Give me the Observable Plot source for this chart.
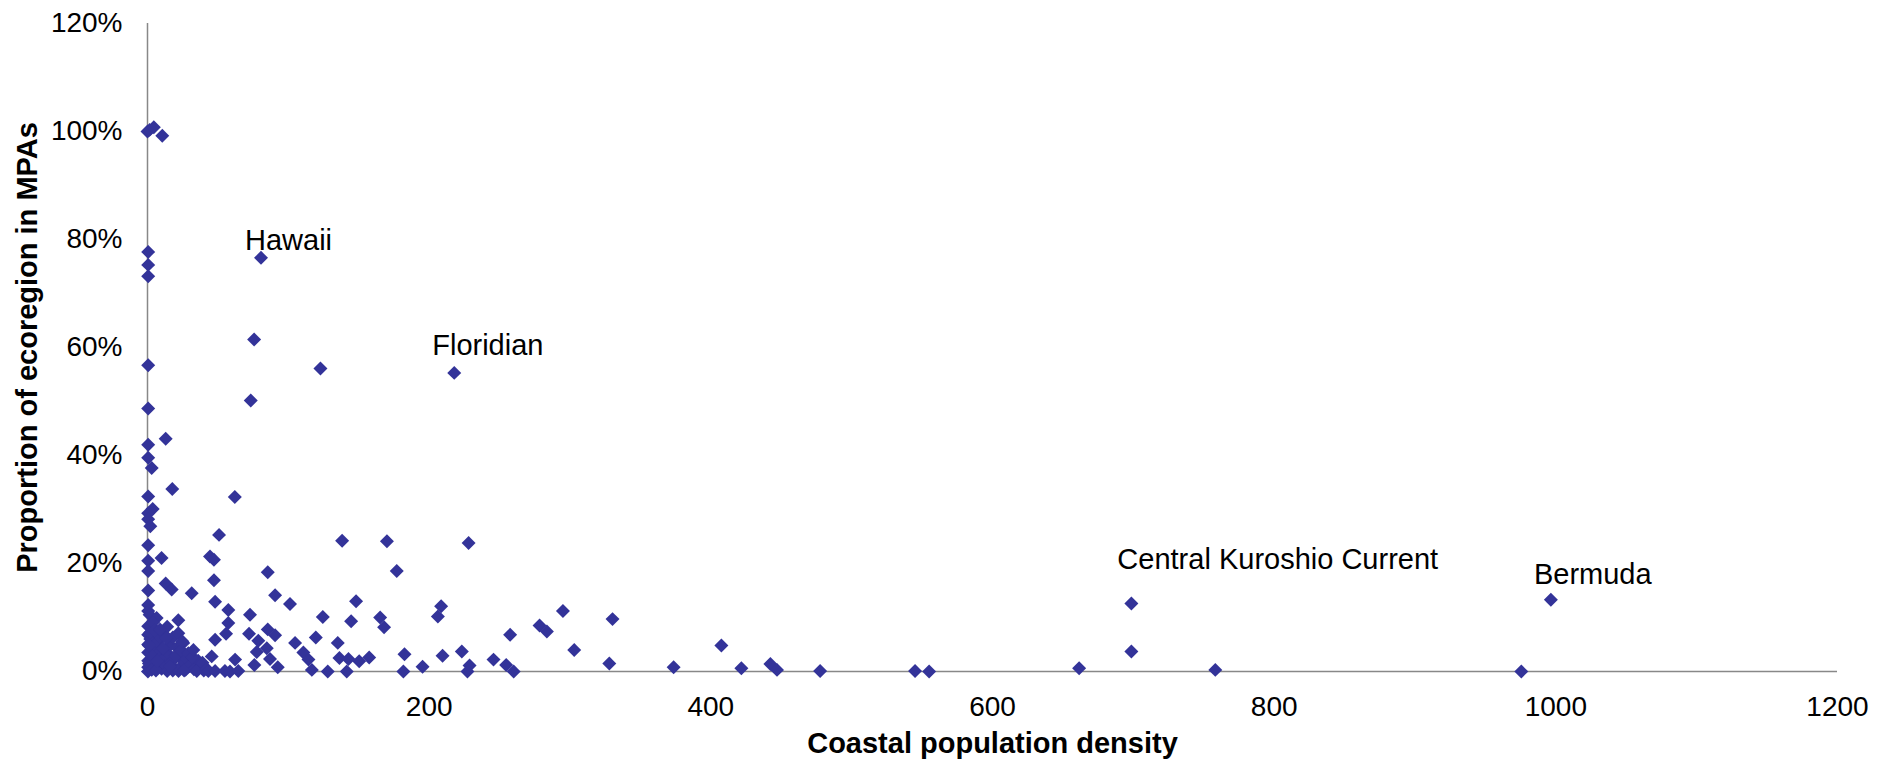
<!DOCTYPE html>
<html>
<head>
<meta charset="utf-8">
<script src="https://cdn.jsdelivr.net/npm/d3@7"></script>
<script src="https://cdn.jsdelivr.net/npm/@observablehq/plot@0.6"></script>
<style>
  html, body { margin: 0; padding: 0; background: #fff; }
  #chart { width: 1892px; height: 765px; }
</style>
</head>
<body>
<div id="chart"></div>
<script>
// ---- Data: [coastal population density, % of ecoregion in MPAs] ----
const axisColumn = [
  [0, 100.0], [1.5, 100.3], [4.5, 100.8], [10.5, 99.2],
  [0.5, 77.7], [0.5, 75.3], [0.5, 73.2],
  [0.5, 56.7], [0.5, 48.7], [0.5, 42.0], [0.5, 39.6], [3, 37.7],
  [0.5, 32.4], [3.7, 30.1], [0.5, 29.3], [0.5, 28.2], [2, 26.9],
  [0.5, 23.4], [0.5, 20.5], [0.5, 18.6], [0.5, 15.0], [0.5, 12.3],
  [0.5, 11.2], [0.5, 8.4], [0.5, 6.8], [0.5, 5.0], [0.5, 3.5],
  [0.5, 2.0], [0.5, 0.8], [0.3, 0.0]
];
const originCluster = [
  [10, 7.4], [14.8, 5.9], [25.4, 5.3], [31.4, 1.5], [35, 0.6], [6.5, 5.0],
  [3, 8.4], [1.5, 10.5], [6.5, 9.9],
  [2, 6.0], [4, 4.5], [6, 3.0], [8, 1.5], [10, 0.5], [3, 2.5], [5, 1.0],
  [7, 5.5], [9, 3.8], [11, 2.2], [13, 1.0], [15, 3.2], [17, 1.8], [19, 0.6],
  [21, 4.4], [23, 2.6], [25, 1.2], [27, 0.3], [12, 6.8], [16, 4.9], [20, 2.9],
  [24, 3.9], [28, 2.3], [30, 1.0], [33, 0.4], [36, 2.0], [38, 0.9], [1, 1.5],
  [2, 3.3], [1, 4.8], [2, 7.2], [4, 9.1], [3, 0.3], [6, 0.2], [14, 0.1],
  [18, 0.2], [22, 0.1], [26, 0.2], [40, 0.2], [9, 6.5], [14, 8.3], [18, 6.3],
  [5, 7.6], [7, 2.0], [11, 4.3], [16, 0.9], [29, 3.4], [32, 2.7], [35, 0.1],
  [39, 1.6], [42, 0.5]
];
const nearPoints = [
  [12.9, 43.1], [17.6, 33.8], [62, 32.3], [50.8, 25.3], [10, 21.0], [44.4, 21.3],
  [47.2, 20.7], [12.9, 16.3], [17.2, 15.2], [31.4, 14.5], [47.2, 16.9], [85.4, 18.4],
  [90.6, 14.1], [101.2, 12.5], [148.1, 13.0], [48, 12.9], [57.4, 11.4], [21.9, 9.5],
  [72.8, 10.5], [124.5, 10.1], [165.2, 10.0], [168, 8.2], [144.6, 9.3], [57.4, 9.0],
  [8.9, 7.8], [21.9, 7.1], [55.8, 7.0], [85.4, 7.8], [90.6, 6.7], [72.1, 7.0],
  [13.6, 6.2], [24.7, 5.6], [48, 5.9], [78.7, 5.7], [104.8, 5.3], [119.5, 6.3],
  [135.1, 5.3], [32.6, 4.0], [84.7, 4.3], [77.6, 3.6], [110.7, 3.5], [114.3, 2.2],
  [45.6, 2.8], [62.2, 2.2], [87, 2.3], [136.3, 2.5], [142.7, 2.3], [150.3, 1.9],
  [157.4, 2.6], [182.5, 3.2], [195.3, 0.9], [75.9, 1.2], [92.5, 0.8], [116.7, 0.3],
  [128, 0], [141.5, 0], [181.7, 0], [43.2, 0.1], [48, 0.1], [55, 0.1], [58.6, 0],
  [64.5, 0.1],
  [73.3, 50.2], [75.7, 61.5], [122.8, 56.1]
];
const farPoints = [
  [138.2, 24.2], [170, 24.1], [177, 18.6], [228, 23.8], [208.5, 12.1], [206.2, 10.2],
  [295, 11.2], [330.2, 9.7], [278.4, 8.5], [283.6, 7.4], [257.5, 6.8], [407.5, 4.8],
  [209.5, 2.9], [223.2, 3.7], [303, 4.0], [245.7, 2.2], [254.7, 1.2], [260, 0],
  [228.7, 1.1], [227.2, 0], [327.9, 1.5], [373.6, 0.8], [421.7, 0.6], [442.3, 1.4],
  [447, 0.3], [477.6, 0.1], [545, 0.1], [555, 0], [661.5, 0.6], [698.6, 3.7],
  [758.2, 0.3], [975.5, 0]
];
const labelNames = ["Hawaii", "Floridian", "Central Kuroshio Current", "Bermuda"];
const labelDensity = [80.6, 217.8, 698.6, 996.5];
const labelPct = [76.6, 55.3, 12.6, 13.3];

const xTicks = [0, 200, 400, 600, 800, 1000, 1200];
const yTicks = [0, 20, 40, 60, 80, 100, 120];
const xTitle = "Coastal population density";
const yTitle = "Proportion of ecoregion in MPAs";

// ---- Build ----
const labeled = labelNames.map((name, i) => ({name, x: labelDensity[i], y: labelPct[i]}));
const allPoints = [...axisColumn, ...originCluster, ...nearPoints, ...farPoints]
  .map(([x, y]) => ({x, y}))
  .concat(labeled);

const FONT = "'Liberation Sans', Arial, Helvetica, sans-serif";
const labelOffsets = {
  "Hawaii": [-16, -8],
  "Floridian": [-22, -18],
  "Central Kuroshio Current": [-14, -34],
  "Bermuda": [-17, -16]
};

const chart = Plot.plot({
  width: 1892,
  height: 765,
  marginLeft: 147,
  marginRight: 55,
  marginTop: 23,
  marginBottom: 94,
  style: {fontFamily: FONT, fontSize: "28px", background: "#fff", color: "#000"},
  x: {domain: [0, 1200]},
  y: {domain: [0, 120]},
  marks: [
    Plot.ruleX([0], {stroke: "#888", strokeWidth: 1.5}),
    Plot.ruleY([0], {stroke: "#888", strokeWidth: 1.5}),
    Plot.axisX({ticks: xTicks, tickSize: 0, tickPadding: 25, label: null,
      fontSize: 28, fontFamily: FONT, tickFormat: d => String(d)}),
    Plot.axisY({ticks: yTicks, tickSize: 0, tickPadding: 25, label: null,
      fontSize: 28, fontFamily: FONT, tickFormat: d => d + "%"}),
    Plot.dot(allPoints, {x: "x", y: "y", symbol: "diamond2", r: 6.3,
      fill: "#333399", stroke: "none"}),
    ...labeled.map(d => Plot.text([d], {
      x: "x", y: "y", text: "name",
      textAnchor: "start", lineAnchor: "bottom",
      dx: labelOffsets[d.name][0], dy: labelOffsets[d.name][1],
      fontSize: 29, fontFamily: FONT, fill: "#000"
    })),
    Plot.text([xTitle], {frameAnchor: "bottom", text: d => d, dy: 72,
      textAnchor: "middle", lineAnchor: "middle", fontSize: 29, fontWeight: "bold",
      fontFamily: FONT, fill: "#000"}),
    Plot.text([yTitle], {frameAnchor: "left", text: d => d, dx: -120, rotate: -90,
      textAnchor: "middle", lineAnchor: "middle", fontSize: 29, fontWeight: "bold",
      fontFamily: FONT, fill: "#000"})
  ]
});
document.getElementById("chart").appendChild(chart);
</script>
</body>
</html>
